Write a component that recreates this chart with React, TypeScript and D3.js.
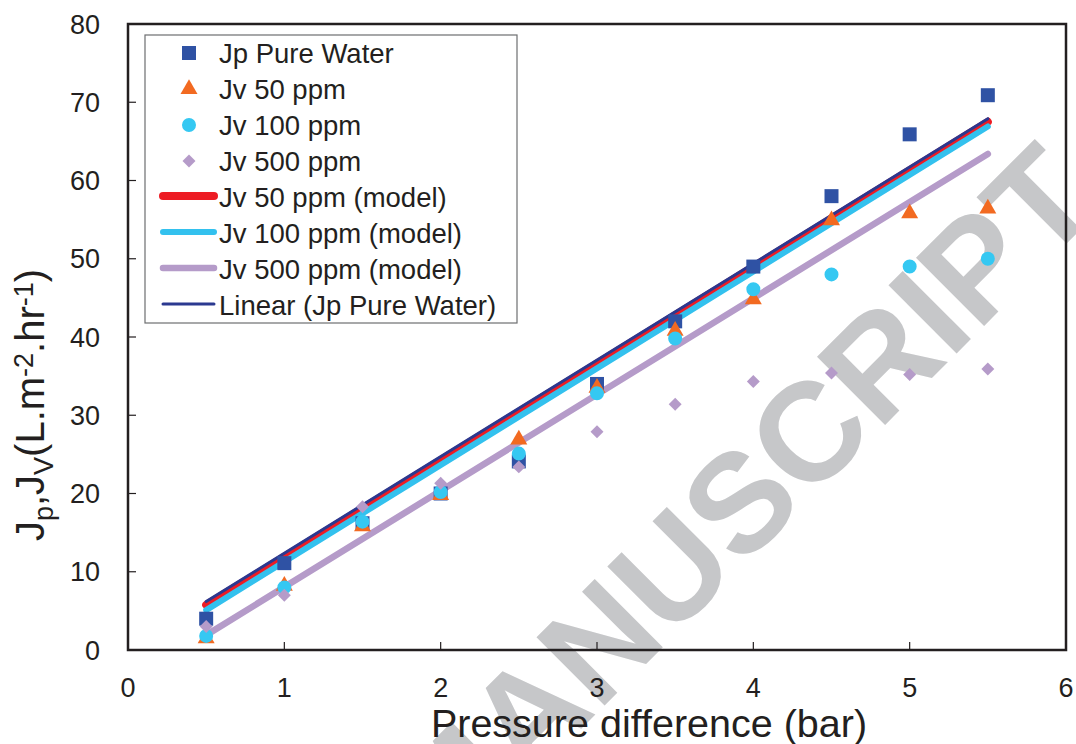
import React from 'react';
import * as d3 from 'd3';

// measured points
const pressure = [0.5, 1, 1.5, 2, 2.5, 3, 3.5, 4, 4.5, 5, 5.5];
const jpWater = [4.0, 11.1, 16.2, 20.0, 24.1, 34.0, 42.0, 49.0, 58.0, 65.9, 70.9];
const jv50 = [1.5, 8.2, 15.8, 19.8, 26.9, 33.5, 40.8, 44.8, 54.9, 55.8, 56.4];
const jv100 = [1.8, 8.0, 16.4, 20.2, 25.1, 32.8, 39.8, 46.1, 48.0, 49.0, 50.0];
const jv500 = [3.0, 7.0, 18.3, 21.3, 23.4, 27.9, 31.4, 34.3, 35.4, 35.2, 35.9];

// model / trend lines (end points)
const modelX = [0.5, 5.5];
const model50 = [5.75, 67.5];
const model100 = [5.1, 66.9];
const model500 = [1.9, 63.4];
const linearJp = [6.2, 67.9];

const xTicks = [0, 1, 2, 3, 4, 5, 6];
const yTicks = [0, 10, 20, 30, 40, 50, 60, 70, 80];

const W = 1076;
const H = 744;
const left = 128;
const right = 1066;
const top = 24;
const bottom = 650;
const font = 'Liberation Sans, Arial, Helvetica, sans-serif';
const ink = '#231f20';

const markers = [
    { name: 'Jp Pure Water', values: jpWater, color: '#2f52a4', type: d3.symbolSquare, size: 196, rot: 0 },
    { name: 'Jv 50 ppm', values: jv50, color: '#f26a21', type: d3.symbolTriangle, size: 125, rot: 0 },
    { name: 'Jv 100 ppm', values: jv100, color: '#35c8f2', type: d3.symbolCircle, size: 154, rot: 0 },
    { name: 'Jv 500 ppm', values: jv500, color: '#b59bc9', type: d3.symbolSquare, size: 84, rot: 45 },
];

const lines = [
    { name: 'Jv 50 ppm (model)', values: model50, color: '#ed1c24', width: 8 },
    { name: 'Jv 100 ppm (model)', values: model100, color: '#33c1ee', width: 6 },
    { name: 'Jv 500 ppm (model)', values: model500, color: '#b59bc9', width: 6.5 },
    { name: 'Linear (Jp Pure Water)', values: linearJp, color: '#2b3990', width: 3 },
];

export default function App() {
    const x = d3.scaleLinear().domain([0, 6]).range([left, right]);
    const y = d3.scaleLinear().domain([0, 80]).range([bottom, top]);

    const line = d3
        .line<[number, number]>()
        .x(d => x(d[0]))
        .y(d => y(d[1]));

    const legendX = 145;
    const legendY = 35;
    const rowH = 36;
    const rows = [...markers.map(m => m.name), ...lines.map(l => l.name)];

    return (
        <div style={{ position: 'fixed', left: 0, top: 0 }}>
            <svg width={W} height={H} style={{ display: 'block', background: '#fff' }}>
                {/* watermark */}
                <text
                    transform="translate(774,536) rotate(-45)"
                    textAnchor="middle"
                    fontFamily={font}
                    fontWeight="bold"
                    fontSize={140}
                    fill="#c6c7c9"
                >
                    MANUSCRIPT
                </text>

                {/* lines */}
                {lines.map(l => (
                    <path
                        key={l.name}
                        d={line(modelX.map((v, i) => [v, l.values[i]]) as [number, number][]) || ''}
                        fill="none"
                        stroke={l.color}
                        strokeWidth={l.width}
                        strokeLinecap="round"
                    />
                ))}

                {/* markers */}
                {markers.map(m => (
                    <g key={m.name} fill={m.color}>
                        {pressure.map((p, i) => (
                            <path
                                key={i}
                                d={d3.symbol().type(m.type).size(m.size)() || ''}
                                transform={`translate(${x(p)},${y(m.values[i])}) rotate(${m.rot})`}
                            />
                        ))}
                    </g>
                ))}

                {/* frame */}
                <rect x={left} y={top} width={right - left} height={bottom - top} fill="none" stroke={ink} strokeWidth={2.5} />

                {/* y axis */}
                {yTicks.map(t => (
                    <g key={t}>
                        {t > 0 && t < 80 && (
                            <line x1={left} x2={left + 8} y1={y(t)} y2={y(t)} stroke={ink} strokeWidth={1.2} />
                        )}
                        <text
                            x={left - 28}
                            y={y(t)}
                            dy="0.36em"
                            textAnchor="end"
                            fontFamily={font}
                            fontSize={27}
                            fill={ink}
                        >
                            {t}
                        </text>
                    </g>
                ))}

                {/* x axis */}
                {xTicks.map(t => (
                    <g key={t}>
                        {t > 0 && t < 6 && (
                            <line x1={x(t)} x2={x(t)} y1={bottom} y2={bottom - 8} stroke={ink} strokeWidth={1.2} />
                        )}
                        <text x={x(t)} y={697} textAnchor="middle" fontFamily={font} fontSize={27} fill={ink}>
                            {t}
                        </text>
                    </g>
                ))}

                <text x={649} y={737} textAnchor="middle" fontFamily={font} fontSize={39.5} fill={ink}>
                    Pressure difference (bar)
                </text>

                <text
                    transform="translate(44,405) rotate(-90)"
                    textAnchor="middle"
                    fontFamily={font}
                    fontSize={40}
                    fill={ink}
                >
                    J
                    <tspan fontSize={27} dy={9}>p</tspan>
                    <tspan dy={-9}>,J</tspan>
                    <tspan fontSize={27} dy={9}>V</tspan>
                    <tspan dy={-9}>(L.m</tspan>
                    <tspan fontSize={27} dy={-11}>-2</tspan>
                    <tspan dy={11}>.hr</tspan>
                    <tspan fontSize={27} dy={-11}>-1</tspan>
                    <tspan dy={11}>)</tspan>
                </text>

                {/* legend */}
                <g>
                    <rect x={legendX} y={legendY} width={372} height={288} fill="#fff" stroke="#6d6e70" strokeWidth={1.2} />
                    {markers.map((m, i) => (
                        <path
                            key={m.name}
                            d={d3.symbol().type(m.type).size(m.size)() || ''}
                            fill={m.color}
                            transform={`translate(189,${53 + i * rowH}) rotate(${m.rot})`}
                        />
                    ))}
                    {lines.map((l, i) => (
                        <line
                            key={l.name}
                            x1={163}
                            x2={214}
                            y1={53 + (i + 4) * rowH - 1}
                            y2={53 + (i + 4) * rowH - 1}
                            stroke={l.color}
                            strokeWidth={l.width}
                            strokeLinecap="round"
                        />
                    ))}
                    {rows.map((r, i) => (
                        <text
                            key={r}
                            x={219}
                            y={53 + i * rowH}
                            dy="0.36em"
                            fontFamily={font}
                            fontSize={27.5}
                            fill={ink}
                        >
                            {r}
                        </text>
                    ))}
                </g>
            </svg>
        </div>
    );
}
